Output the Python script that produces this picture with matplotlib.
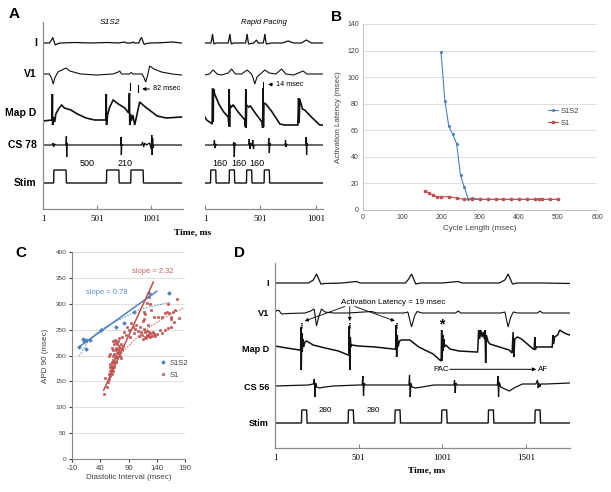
import numpy as np
import matplotlib
matplotlib.use("Agg")
import matplotlib.pyplot as plt

plt.rcParams['font.family'] = ['Liberation Sans', 'DejaVu Sans']
plt.rcParams['axes.unicode_minus'] = False

W, H = 611, 492

# ---------------- data: panel A, S1S2 recording (time ms, amplitude) ----------------
a1_I = [(0,0),(60,0),(80,3),(92,5.5),(105,1),(115,-2),(130,-1),(160,0),(300,0.5),(450,0),(600,0.5),
        (700,0),(760,1),(775,0),(820,0),(840,1),(850,0),(890,0),(905,4),(915,5.5),(930,1),(940,-1.5),
        (960,-0.5),(1000,0),(1100,0.3),(1200,1),(1285,0)]
a1_V1 = [(0,0),(60,0),(80,-4),(96,-10),(110,-4),(140,2),(213,6),(250,3),(350,0),(500,-1),(650,0),
         (700,2),(713,3),(730,0),(800,0),(821,1.5),(835,0),(920,0),(940,-4),(954,-8),(970,-2),(991,8),
         (1030,5),(1100,2),(1200,0),(1285,-1)]
a1_map = [(0,-2),(85,-1),(88,25),(90,-6),(93,-4),(100,2),(110,-3),(120,5),(145,10),(173,14),(200,11),
          (260,9),(320,5),(400,1),(480,-1),(585,-1),(588,25),(590,-6),(594,-3),(600,4),(620,12),(652,19),
          (700,15),(760,11),(795,6),(803,26),(806,-6),(812,5),(820,-2),(835,4),(852,-6),(870,3),(898,17),
          (950,12),(1000,8),(1060,3),(1145,1),(1285,2)]
a1_cs = [(0,0),(90,0),(95,2),(100,-2),(110,1),(120,0),(212,0),(215,3),(218,9),(221,-12),(224,2),(228,0),
         (720,0),(724,8),(728,-10),(732,1),(735,0),(915,0),(925,3),(935,-2),(945,2),(960,0),(990,2),
         (1005,-4),(1010,10),(1014,-10),(1018,7),(1022,-3),(1030,0),(1285,0)]
a1_stim_on = [100, 590, 815]
a1_stim_w = 118
a1_stim_lbl = [("500", 410), ("210", 765)]

# ---------------- data: panel A, rapid pacing ----------------
a2_I = [(0,0),(55,0),(62,4),(69,9),(76,3),(82,-1),(100,0),(210,0),(218,4),(225,9),(232,3),(238,-1),(260,0),
        (366,0),(374,4),(381,9),(388,3),(394,-1),(440,0),(465,3),(480,0),(526,0),(534,4),(541,9),(548,3),
        (554,-1),(600,0),(700,0),(751,2),(800,0),(870,0),(916,3),(960,0),(1060,0)]
a2_V1 = [(0,-1),(40,0),(75,4),(110,0),(150,-1),(210,1),(240,5),(275,0),(330,0),(381,4),(420,0),(435,-4),
         (450,-10),(470,-3),(500,0),(541,4),(580,1),(640,0),(691,5),(730,0),(800,-1),(886,3),(920,0),(1060,0)]
a2_map = [(0,2),(15,-1),(55,-4),(65,-5),(68,30),(72,30),(75,-3),(78,30),(88,25),(130,14),(170,7),(210,2),
          (217,-7),(219,30),(222,-8),(226,14),(240,12),(255,14),(300,7),(360,-1),(366,-8),(369,30),(372,-9),
          (376,14),(395,12),(410,13),(460,5),(515,-3),(521,-9),(524,31),(528,-8),(532,16),(550,15),(600,8),
          (676,-5),(720,-6),(838,-6),(845,21),(850,-4),(855,20),(880,10),(900,9),(960,2),(1036,-6),(1060,-6)]
a2_cs = [(0,0),(80,0),(86,5),(92,-3),(98,1),(105,0),(255,0),(260,3),(265,-12),(270,2),(276,0),(395,0),(400,6),
         (405,-4),(412,2),(425,-1),(432,5),(438,-4),(445,0),(572,0),(576,7),(581,-8),(586,2),(592,0),(722,0),
         (727,5),(732,-2),(737,1),(742,0),(908,0),(913,8),(917,-10),(921,2),(926,0),(1060,0)]
a2_stim_on = [51, 219, 375, 534]
a2_stim_w = 50
a2_stim_lbl = [("160", 135), ("160", 305), ("160", 470)]

# ---------------- data: panel B ----------------
b_s1s2_cl = [200, 210, 220, 230, 240, 250, 260, 270, 280, 300, 320, 340, 360, 380, 400, 420, 440, 460, 480, 500]
b_s1s2_lat = [119, 82, 63, 57, 50, 26, 17, 8, 9, 8, 8, 8, 8, 8, 8, 8, 8, 8, 8, 8]
b_s1_cl = [160, 170, 180, 190, 200, 220, 240, 260, 280, 300, 320, 340, 360, 380, 400, 420, 440, 450, 460, 480, 500]
b_s1_lat = [14.5, 12.5, 11, 10, 10, 10, 9, 8, 8, 8, 8, 8, 8, 8, 8, 8, 8, 8, 8, 8, 8]

# ---------------- data: panel C ----------------
c_s1s2_di = [3, 9, 12, 15, 21, 14, 42, 68, 82, 100, 126, 162]
c_s1s2_apd = [217, 231, 228, 229, 229, 212, 250, 256, 263, 285, 320, 320]
c_s1_di = [46,48,52,54,55,56,57,57,58,58,59,60,60,61,61,62,62,63,63,64,65,65,66,67,67,68,68,69,70,70,71,72,72,
           73,74,75,75,76,77,78,63,66,64,60,62,58,56,68,74,79,80,
           82,85,88,90,92,95,98,100,102,104,106,108,110,112,114,115,117,118,119,120,121,122,123,124,125,126,
           127,128,130,131,133,135,137,140,118,120,116,122,126,128,130,145,150,155,158,160,162,165,166,168,
           170,172,176,180,150,155,160,165,142,135]
c_s1_apd = [125,157,140,148,165,155,170,178,160,183,172,175,188,165,180,170,192,185,200,178,190,203,196,200,210,
            188,215,205,198,222,212,205,228,218,208,200,215,222,195,212,228,230,222,215,210,203,200,227,234,235,219,
            245,240,256,250,236,262,255,243,252,258,248,238,255,245,240,232,270,252,245,236,233,248,240,237,258,245,
            240,236,243,238,246,241,237,242,285,280,267,302,314,300,288,250,243,282,284,300,283,275,270,285,
            264,288,310,272,275,250,253,255,275,275]
c_s1s2_fit = ([3, 140], [217, 324])
c_s1_fit = ([46, 134], [133, 342])
c_s1s2_poly = ([3, 20, 40, 70, 110, 163], [199, 230, 250, 267, 289, 303])
c_s1_poly = ([70, 100, 130, 160, 188], [195, 230, 257, 277, 292])

# ---------------- data: panel D ----------------
d_I = [(0,0),(200,0),(230,3),(249,9),(265,3),(275,-1),(300,-0.5),(400,0),(488,1.5),(510,0),(700,0),(780,0),
       (800,4),(817,9),(832,3),(842,-1),(870,0),(1000,0),(1096,1.5),(1120,0),(1340,0),(1375,3),(1394,9),
       (1410,3),(1420,-1),(1450,0),(1600,0),(1763,-0.5)]
d_V1 = [(0,0),(10,2.5),(25,2.5),(40,-1),(80,-0.5),(180,0),(215,2),(235,4),(249,-13),(262,-4),(279,4),(300,1),
        (350,0),(440,0),(578,1.5),(610,0),(770,0),(795,1),(817,-14),(835,-3),(850,1.5),(880,0),(1080,0),
        (1096,2),(1112,0),(1350,0),(1375,1),(1394,-14),(1410,-4),(1425,1),(1450,0),(1570,0),(1584,2),(1600,0),
        (1763,0)]
d_map = [(0,1),(70,-1),(149,-3),(154,-3),(156,20),(158,-23),(161,14),(164,-5),(167,8),(172,0),(180,5),(189,6),
         (229,2),(300,-1),(380,-4),(438,-8),(442,-8),(445,21),(448,-23),(451,10),(455,0),(460,2),(500,1),(600,0),
         (707,-2),(722,-2),(725,22),(728,-10),(732,12),(736,0),(745,6),(757,7),(807,7),(860,0),(946,-7),(986,-13),
         (994,-14),(997,17),(1000,-14),(1003,12),(1006,-4),(1010,8),(1014,0),(1022,2),(1046,-2),(1100,-4),
         (1205,-5),(1212,-5),(1218,17),(1224,8),(1231,17),(1238,10),(1245,15),(1252,8),(1256,17),(1260,-16),
         (1264,12),(1275,5),(1285,3),(1400,-3),(1418,-6),(1424,15),(1428,-10),(1434,8),(1450,10),(1474,8),
         (1544,-2),(1550,-2),(1554,10),(1557,-3),(1562,0),(1653,0),(1658,0),(1662,12),(1666,3),(1672,10),
         (1690,12),(1703,17),(1720,15),(1743,13),(1763,12)]
d_cs = [(0,-1),(200,0),(230,1),(236,6),(240,-12),(244,2),(250,-2),(265,-3),(300,-2),(350,-1),(500,0),(522,0),
        (526,9),(530,-11),(534,2),(540,0),(700,0),(801,0),(805,10),(809,-12),(813,2),(820,-2),(840,-3),(880,-2),
        (950,0),(1070,0),(1074,5),(1078,-8),(1082,2),(1090,0),(1200,0),(1330,0),(1333,9),(1337,-12),(1341,3),
        (1350,-2),(1400,-6),(1430,-3),(1480,1),(1560,1),(1570,5),(1574,-3),(1578,2),(1584,-2),(1590,1),(1620,1),
        (1763,2)]
d_stim_on = [159, 438, 717, 996, 1275, 1554]
d_stim_w = 34
d_stim_lbl = [("280", 299), ("280", 588)]
d_latency_marks = [160, 448, 727]

time_ticks_a = [1, 501, 1001]
time_ticks_d = [1, 501, 1001, 1501]

BLUE = '#4F81BD'
RED = '#C0504D'
GRAY = '#8c8c8c'
TXT = '#404040'
SERIF = ['Liberation Serif', 'DejaVu Serif']


def px_axes(fig, x0, y0, x1, y1):
    return fig.add_axes([x0 / W, 1 - y1 / H, (x1 - x0) / W, (y1 - y0) / H])


def stim_trace(onsets, width, tmax, h=13):
    t, y = [0], [0]
    for o in onsets:
        t += [o, o + 2, o + width - 3, o + width]
        y += [0, h, h, 0]
    t.append(tmax)
    y.append(0)
    return np.array(t), np.array(y)


def trace_axes(ax, tmax, ytop, ticks, show_left=True):
    ax.set_xlim(1, tmax)
    ax.set_ylim(0, ytop)
    for s in ['top', 'right']:
        ax.spines[s].set_visible(False)
    ax.spines['left'].set_visible(show_left)
    for s in ['left', 'bottom']:
        ax.spines[s].set_color(GRAY)
        ax.spines[s].set_linewidth(0.9)
    ax.set_yticks([])
    ax.set_xticks(ticks)
    ax.set_xticklabels([str(t) for t in ticks], family=SERIF, fontsize=6.5)
    ax.tick_params(axis='x', direction='in', length=3, color=GRAY, pad=4)
    ax.patch.set_alpha(0)


def draw_channels(ax, chans, offsets, lws):
    for ch, off, lw in zip(chans, offsets, lws):
        arr = np.array(ch)
        ax.plot(arr[:, 0], arr[:, 1] + off, color='#111111', lw=lw, solid_joinstyle='miter')


fig = plt.figure(figsize=(W / 100, H / 100), dpi=100)

# ================= Panel A =================
a_off = [166, 135, 90, 64, 26]
a_lw = [0.9, 0.8, 1.2, 0.9, 1.0]
axl = px_axes(fig, 43, 22, 183, 209)
trace_axes(axl, 1300, 187, time_ticks_a)
st, sy = stim_trace(a1_stim_on, a1_stim_w, 1285)
draw_channels(axl, [a1_I, a1_V1, a1_map, a1_cs, list(zip(st, sy))], a_off, a_lw)
for lbl, t in a1_stim_lbl:
    axl.text(t, 45, lbl, ha='center', va='center', fontsize=6.5)
for name, off in zip(['I', 'V1', 'Map D', 'CS 78', 'Stim'], [166, 135, 96, 64, 26]):
    axl.text(-0.045, off, name, transform=axl.get_yaxis_transform(), ha='right', va='center',
             fontsize=7.5, fontweight='bold')
axl.text(0.48, 1.0, 'S1S2', transform=axl.transAxes, ha='center', va='center', fontsize=6, style='italic')
# 82 msec marker
axl.plot([812, 812], [119, 126], color='k', lw=0.8)
axl.plot([882, 882], [117, 124], color='k', lw=0.8)
axl.annotate('', xy=(895, 120), xytext=(1015, 120),
             arrowprops=dict(arrowstyle='-|>', color='k', lw=0.7, mutation_scale=5))
axl.text(1020, 120, '82 msec', va='center', ha='left', fontsize=5.2)

axr = px_axes(fig, 205, 22, 323, 209)
trace_axes(axr, 1065, 187, time_ticks_a, show_left=False)
st, sy = stim_trace(a2_stim_on, a2_stim_w, 1060)
draw_channels(axr, [a2_I, a2_V1, a2_map, a2_cs, list(zip(st, sy))], a_off, a_lw)
for lbl, t in a2_stim_lbl:
    axr.text(t, 45, lbl, ha='center', va='center', fontsize=6.5)
axr.text(0.5, 1.0, 'Rapid Pacing', transform=axr.transAxes, ha='center', va='center', fontsize=5.6,
         style='italic')
axr.plot([521, 521], [122, 127], color='k', lw=0.7)
axr.plot([527, 527], [122, 127], color='k', lw=0.7)
axr.annotate('', xy=(545, 124.5), xytext=(630, 124.5),
             arrowprops=dict(arrowstyle='-|>', color='k', lw=0.7, mutation_scale=5))
axr.text(645, 124.5, '14 msec', va='center', ha='left', fontsize=5.2)
fig.text(193 / W, 1 - 232 / H, 'Time, ms', ha='center', va='center', family=SERIF, fontsize=6.8,
         fontweight='bold')

# ================= Panel B =================
axb = px_axes(fig, 363, 24, 597, 210)
axb.plot(b_s1s2_cl, b_s1s2_lat, color=BLUE, lw=0.8, marker='D', ms=1.1, label='S1S2')
axb.plot(b_s1_cl, b_s1_lat, color=RED, lw=0.8, marker='s', ms=1.7, label='S1')
axb.set_xlim(0, 600)
axb.set_ylim(0, 140)
axb.set_xticks(range(0, 601, 100))
axb.set_yticks(range(0, 141, 20))
axb.yaxis.grid(True, color='#d9d9d9', lw=0.6)
axb.set_axisbelow(True)
for s in ['top', 'right']:
    axb.spines[s].set_visible(False)
for s in ['left', 'bottom']:
    axb.spines[s].set_color('#bfbfbf')
    axb.spines[s].set_linewidth(0.7)
axb.tick_params(labelsize=5, colors=TXT, length=0, pad=3)
axb.set_xlabel('Cycle Length (msec)', fontsize=5.8, color=TXT, labelpad=3)
axb.set_ylabel('Activation Latency (msec)', fontsize=5.8, color=TXT, labelpad=4)
axb.legend(loc='center left', bbox_to_anchor=(0.76, 0.5), frameon=False, fontsize=5.5,
           handlelength=1.4, handletextpad=0.3, labelspacing=0.6, labelcolor=TXT)

# ================= Panel C =================
axc = px_axes(fig, 72, 252, 185, 459)
axc.plot(c_s1s2_poly[0], c_s1s2_poly[1], color=BLUE, lw=0.6, ls=(0, (2, 1.5)))
axc.plot(c_s1_poly[0], c_s1_poly[1], color=RED, lw=0.6, ls=(0, (2, 1.5)))
axc.plot(c_s1_di, c_s1_apd, ls='none', marker='s', ms=2.0, color=RED, mec=RED, mew=0.4, label='S1')
axc.plot(c_s1s2_di, c_s1s2_apd, ls='none', marker='D', ms=2.0, color=BLUE, mec=BLUE, mew=0.4, label='S1S2')
axc.plot(c_s1s2_fit[0], c_s1s2_fit[1], color=BLUE, lw=1.1)
axc.plot(c_s1_fit[0], c_s1_fit[1], color=RED, lw=1.1)
axc.set_xlim(-10, 190)
axc.set_ylim(0, 400)
axc.set_xticks([-10, 40, 90, 140, 190])
axc.set_yticks(range(0, 401, 50))
axc.yaxis.grid(True, color='#d9d9d9', lw=0.6)
axc.set_axisbelow(True)
for s in ['top', 'right']:
    axc.spines[s].set_visible(False)
for s in ['left', 'bottom']:
    axc.spines[s].set_color('#868686')
    axc.spines[s].set_linewidth(0.8)
axc.tick_params(axis='y', labelsize=4.6, colors=TXT, length=2, pad=2)
axc.tick_params(axis='x', labelsize=5.6, colors=TXT, length=2, pad=2)
axc.set_xlabel('Diastolic Interval (msec)', fontsize=5.8, color=TXT, labelpad=2)
axc.set_ylabel('APD 90 (msec)', fontsize=5.8, color=TXT, labelpad=5)
axc.text(132, 362, 'slope = 2.32', color='#d06060', fontsize=5.4, ha='center', va='center')
axc.text(52, 322, 'slope = 0.78', color='#5b8fd0', fontsize=5.4, ha='center', va='center')
h, l = axc.get_legend_handles_labels()
axc.legend(h[::-1], l[::-1], loc='center left', bbox_to_anchor=(0.72, 0.435), frameon=False,
           fontsize=5.5, handlelength=0.8, handletextpad=0.5, labelspacing=0.6, labelcolor=TXT)

# ================= Panel D =================
d_off = [165, 135, 101, 63, 25]
axd = px_axes(fig, 275, 263, 570, 448)
trace_axes(axd, 1764, 185, time_ticks_d)
st, sy = stim_trace(d_stim_on, d_stim_w, 1763)
draw_channels(axd, [d_I, d_V1, d_map, d_cs, list(zip(st, sy))], d_off, [0.9, 0.8, 1.1, 0.9, 1.0])
for lbl, t in d_stim_lbl:
    axd.text(t, 37, lbl, ha='center', va='center', fontsize=5.8)
for name, off in zip(['I', 'V1', 'Map D', 'CS 56', 'Stim'], [165, 135, 99, 61, 24]):
    axd.text(-6 / 295, off, name, transform=axd.get_yaxis_transform(), ha='right', va='center',
             fontsize=6.6, fontweight='bold')
for t in d_latency_marks:
    for dt in (-4, 4):
        axd.plot([t + dt, t + dt], [120.5, 126.5], color='k', lw=0.6, ls=(0, (1.5, 1)))
axd.text(707, 145.5, 'Activation Latency = 19 msec', ha='center', va='center', fontsize=5.8)
for (x0, x1) in [(418, 179), (448, 448), (478, 717)]:
    axd.annotate('', xy=(x1, 127), xytext=(x0, 141.5),
                 arrowprops=dict(arrowstyle='-|>', color='k', lw=0.6, mutation_scale=5,
                                 shrinkA=0, shrinkB=0))
axd.text(1000, 124, '*', ha='center', va='center', fontsize=10, fontweight='bold')
axd.text(996, 78.7, 'PAC', ha='center', va='center', fontsize=5.8)
axd.annotate('', xy=(1562, 78.7), xytext=(1046, 78.7),
             arrowprops=dict(arrowstyle='-|>', color='k', lw=0.7, mutation_scale=5, shrinkA=0, shrinkB=0))
axd.text(1575, 78.7, 'AF', ha='left', va='center', fontsize=5.8)
fig.text(427 / W, 1 - 470 / H, 'Time, ms', ha='center', va='center', family=SERIF, fontsize=6.8,
         fontweight='bold')

# ---- panel letters ----
for lbl, x, y in [('A', 14, 14), ('B', 336, 17), ('C', 21, 253), ('D', 240, 253)]:
    fig.text(x / W, 1 - y / H, lbl, ha='center', va='center', fontsize=11, fontweight='bold')

fig.savefig('out.png', dpi=100)
